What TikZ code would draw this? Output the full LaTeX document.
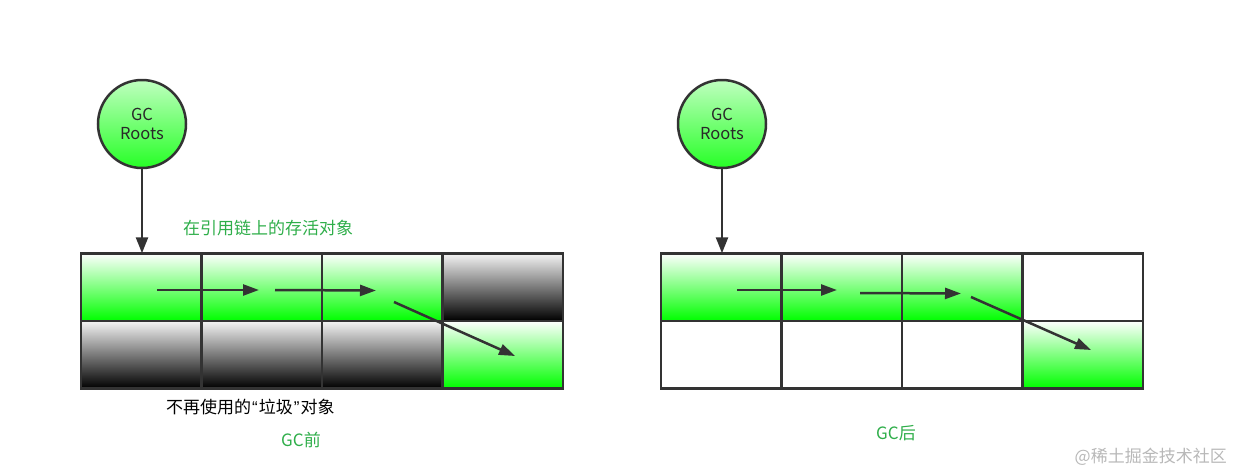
\documentclass[tikz,border=0pt]{standalone}
\usepackage{fontspec}
\setmainfont{Noto Sans CJK SC}
\newfontfamily\qtfont{Liberation Sans}
\newcommand{\myquote}[1]{\hspace{1pt}{\qtfont #1}\hspace{1pt}}
\usetikzlibrary{arrows.meta,shadings}
\definecolor{ln}{HTML}{333333}
\definecolor{lbl}{HTML}{2FAE4A}
\definecolor{wm}{HTML}{B8B8B8}
\tikzset{
  cellbase/.style={draw=ln,line width=2.5pt,rectangle,minimum width=120.5pt,minimum height=67.5pt,inner sep=0pt,outer sep=0pt},
  livecell/.style={cellbase,top color=white,bottom color=green},
  deadcell/.style={cellbase,top color=gray!8,bottom color=black},
  freecell/.style={cellbase,fill=white},
  rootnode/.style={circle,draw=ln,line width=2.5pt,minimum size=88pt,inner sep=0pt,top color=green!25,bottom color=green!85!white,font=\fontsize{16.5}{19.5}\selectfont,text=ln!80!black,align=center},
  refarrow/.style={draw=ln,line width=2.5pt,-{Triangle[length=16pt,width=11pt]}},
  rootarrow/.style={draw=ln,line width=2.5pt,-{Triangle[length=16pt,width=12pt]}},
  lbltext/.style={font=\fontsize{17}{20}\selectfont,text=lbl,inner sep=0pt},
}
\begin{document}
\begin{tikzpicture}[x=1pt,y=-1pt]
\useasboundingbox (0,0) rectangle (1234,474);
% left grid
\node[livecell] (a1) at (141.25,287) {};
\node[livecell] (a2) at (261.75,287) {};
\node[livecell] (a3) at (382.25,287) {};
\node[deadcell] (a4) at (502.75,287) {};
\node[deadcell] (b1) at (141.25,354.5) {};
\node[deadcell] (b2) at (261.75,354.5) {};
\node[deadcell] (b3) at (382.25,354.5) {};
\node[livecell] (b4) at (502.75,354.5) {};
% right grid
\node[livecell] (c1) at (721.25,287) {};
\node[livecell] (c2) at (841.75,287) {};
\node[livecell] (c3) at (962.25,287) {};
\node[freecell] (c4) at (1082.75,287) {};
\node[freecell] (d1) at (721.25,354.5) {};
\node[freecell] (d2) at (841.75,354.5) {};
\node[freecell] (d3) at (962.25,354.5) {};
\node[livecell] (d4) at (1082.75,354.5) {};
% roots
\node[rootnode] (r1) at (142,124) {GC\\Roots};
\node[rootnode] (r2) at (722,124) {GC\\Roots};
\draw[rootarrow] (r1.south) -- (r1.south |- a1.north);
\draw[rootarrow] (r2.south) -- (r2.south |- c1.north);
% reference arrows left
\coordinate (p1s) at (157,290); \coordinate (p1e) at (259,290);
\coordinate (p2s) at (275,290); \coordinate (p2e) at (376,290.5);
\coordinate (p3s) at (394,302); \coordinate (p3e) at (515,356);
\draw[refarrow] (p1s) -- (p1e);
\draw[refarrow] (p2s) -- (p2e);
\draw[refarrow] (p3s) -- (p3e);
% reference arrows right
\coordinate (q1s) at (737,290); \coordinate (q1e) at (837,290);
\coordinate (q2s) at (860,293); \coordinate (q2e) at (961,293.5);
\coordinate (q3s) at (971,297); \coordinate (q3e) at (1091,350);
\draw[refarrow] (q1s) -- (q1e);
\draw[refarrow] (q2s) -- (q2e);
\draw[refarrow] (q3s) -- (q3e);
% labels
\node[lbltext,anchor=west] (l1) at (183,228) {在引用链上的存活对象};
\node[lbltext,anchor=west,text=black] (l2) at (166,407) {不再使用的\myquote{“}垃圾\myquote{”}对象};
\node[lbltext] (l3) at (301,440) {GC前};
\node[lbltext] (l4) at (896,433) {GC后};
\node[font=\fontsize{17}{20}\selectfont,text=wm,anchor=east,inner sep=0pt] (wmk) at (1227,457) {@稀土掘金技术社区};
\end{tikzpicture}
\end{document}
